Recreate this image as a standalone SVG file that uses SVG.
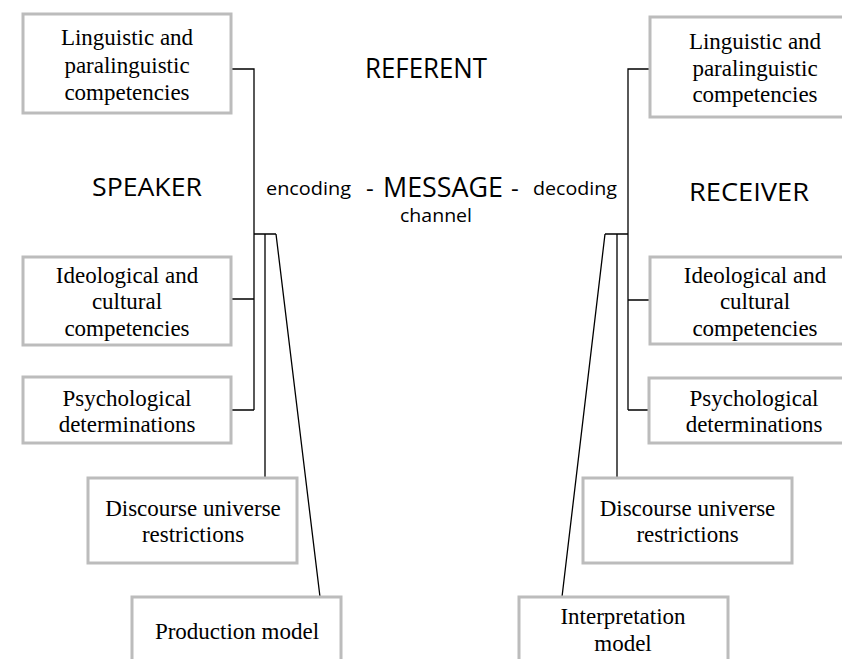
<svg xmlns="http://www.w3.org/2000/svg" width="842" height="659" viewBox="0 0 842 659">
<style>
.box{fill:#fff;stroke:#bcbcbc;stroke-width:3}
.t{font-family:"Liberation Serif","Times New Roman",serif;font-size:23px;fill:#000;text-anchor:middle}
.s{font-family:"Open Sans","Liberation Sans",sans-serif;fill:#000}
.c{fill:none;stroke:#000;stroke-width:1.3}
</style>
<rect width="842" height="659" fill="#fff"/>
<g id="connectors">
<path class="c" d="M231,69H254V410M231,299H254M231,410H254M254,234H276M265,234V477M276,234L320,597"/>
<path class="c" d="M650,69H628V410M650,300H628M649,410H628M628,234H605M617,234V477M605,234L562,597"/>
</g>
<g id="speaker-linguistic"><rect class="box" x="23" y="14" width="208" height="99"/>
<text class="t" x="127" y="45">Linguistic and</text><text class="t" x="127" y="72.5">paralinguistic</text><text class="t" x="127" y="99.5">competencies</text></g>
<g id="speaker-ideological"><rect class="box" x="23" y="257" width="208" height="88"/>
<text class="t" x="127" y="283">Ideological and</text><text class="t" x="127" y="309">cultural</text><text class="t" x="127" y="336">competencies</text></g>
<g id="speaker-psychological"><rect class="box" x="23" y="377" width="208" height="66"/>
<text class="t" x="127" y="406">Psychological</text><text class="t" x="127" y="432">determinations</text></g>
<g id="speaker-discourse"><rect class="box" x="88" y="478" width="209" height="85"/>
<text class="t" x="193" y="516">Discourse universe</text><text class="t" x="193" y="542">restrictions</text></g>
<g id="production-model"><rect class="box" x="132" y="597" width="209" height="80"/>
<text class="t" x="237" y="639">Production model</text></g>
<g id="receiver-linguistic"><rect class="box" x="650" y="17" width="210" height="100"/>
<text class="t" x="755" y="49">Linguistic and</text><text class="t" x="755" y="76">paralinguistic</text><text class="t" x="755" y="102">competencies</text></g>
<g id="receiver-ideological"><rect class="box" x="650" y="257" width="210" height="87"/>
<text class="t" x="755" y="283">Ideological and</text><text class="t" x="755" y="309">cultural</text><text class="t" x="755" y="336">competencies</text></g>
<g id="receiver-psychological"><rect class="box" x="649" y="378" width="211" height="65"/>
<text class="t" x="754" y="406">Psychological</text><text class="t" x="754" y="432">determinations</text></g>
<g id="receiver-discourse"><rect class="box" x="583" y="478" width="209" height="85"/>
<text class="t" x="687.5" y="516">Discourse universe</text><text class="t" x="687.5" y="542">restrictions</text></g>
<g id="interpretation-model"><rect class="box" x="519" y="597" width="209" height="80"/>
<text class="t" x="623" y="624">Interpretation</text><text class="t" x="623" y="651">model</text></g>
<g id="labels">
<text class="s" x="365" y="78" font-size="27" textLength="122" lengthAdjust="spacingAndGlyphs">REFERENT</text>
<text class="s" x="92" y="196" font-size="26" textLength="110" lengthAdjust="spacingAndGlyphs">SPEAKER</text>
<text class="s" x="689" y="201" font-size="26" textLength="120" lengthAdjust="spacingAndGlyphs">RECEIVER</text>
<text class="s" x="266" y="195" font-size="18" textLength="85" lengthAdjust="spacingAndGlyphs">encoding</text>
<text class="s" x="366" y="197" font-size="24">-</text>
<text class="s" x="383" y="197" font-size="27" textLength="120" lengthAdjust="spacingAndGlyphs">MESSAGE</text>
<text class="s" x="511" y="197" font-size="24">-</text>
<text class="s" x="533" y="195" font-size="18" textLength="84" lengthAdjust="spacingAndGlyphs">decoding</text>
<text class="s" x="400" y="222" font-size="18" textLength="72" lengthAdjust="spacingAndGlyphs">channel</text>
</g>
</svg>
